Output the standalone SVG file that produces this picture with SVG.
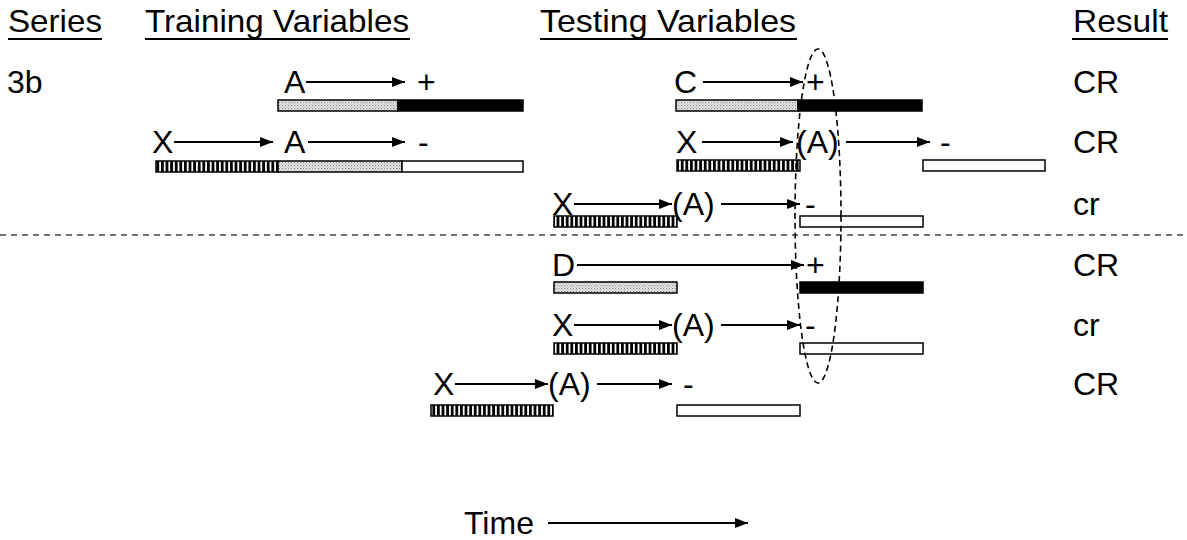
<svg xmlns="http://www.w3.org/2000/svg" width="1187" height="540" viewBox="0 0 1187 540">
<defs>
<style>
text{font-family:"Liberation Sans",Arial,sans-serif;fill:#000}
.h{font-size:32px}
.t{font-size:32px}
.ul{stroke:#000;stroke-width:2.2}
.ar{stroke:#000;stroke-width:2;fill:none;marker-end:url(#ah)}
.bar{stroke:#000;stroke-width:1.5}
.st{fill:url(#stip)}
.vs{fill:url(#vstr)}
.bk{fill:#000}
.wh{fill:#fff}
</style>
<marker id="ah" viewBox="0 0 13 10" refX="13" refY="5" markerWidth="13" markerHeight="10" markerUnits="userSpaceOnUse" orient="auto">
<path d="M0,0 L13,5 L0,10 Z" fill="#000"/>
</marker>
<pattern id="stip" width="3" height="3" patternUnits="userSpaceOnUse">
<rect width="3" height="3" fill="#ececec"/>
<rect x="0" y="0" width="1.2" height="1.2" fill="#888"/>
<rect x="1.5" y="1.5" width="1.2" height="1.2" fill="#aaa"/>
</pattern>
<pattern id="vstr" width="4.6" height="20" patternUnits="userSpaceOnUse">
<rect width="4.6" height="20" fill="#fff"/>
<rect width="2.8" height="20" fill="#000"/>
</pattern>
</defs>

<g id="headers">
<text class="h" x="8" y="32" textLength="94" lengthAdjust="spacingAndGlyphs">Series</text>
<line class="ul" x1="8" y1="39" x2="102" y2="39"/>
<text class="h" x="145" y="32" textLength="264" lengthAdjust="spacingAndGlyphs">Training Variables</text>
<line class="ul" x1="145" y1="39" x2="410" y2="39"/>
<text class="h" x="540" y="32" textLength="256" lengthAdjust="spacingAndGlyphs">Testing Variables</text>
<line class="ul" x1="540" y1="39" x2="797" y2="39"/>
<text class="h" x="1073" y="32" textLength="95" lengthAdjust="spacingAndGlyphs">Result</text>
<line class="ul" x1="1072" y1="39" x2="1168" y2="39"/>
</g>

<g id="row1">
<text class="t" x="7" y="93">3b</text>
<text class="t" x="284" y="93">A</text>
<text class="t" x="417" y="93">+</text>
<rect class="bar st" x="278" y="100" width="120" height="11"/>
<rect class="bar bk" x="398" y="100" width="125" height="11"/>
<text class="t" x="674" y="93">C</text>
<text class="t" x="806" y="93">+</text>
<rect class="bar st" x="676" y="100" width="122" height="11"/>
<rect class="bar bk" x="798" y="100" width="124" height="11"/>
<text class="t" x="1073" y="93">CR</text>
</g>

<g id="row2">
<text class="t" x="152" y="153">X</text>
<text class="t" x="284" y="153">A</text>
<text class="t" x="418" y="153">-</text>
<rect class="bar vs" x="156" y="161" width="122" height="11"/>
<rect class="bar st" x="278" y="161" width="124" height="11"/>
<rect class="bar wh" x="402" y="161" width="121" height="11"/>
<text class="t" x="676" y="153">X</text>
<text class="t" x="796" y="153">(A)</text>
<text class="t" x="940" y="153">-</text>
<rect class="bar vs" x="677" y="160" width="123" height="11"/>
<rect class="bar wh" x="923" y="160" width="122" height="11"/>
<text class="t" x="1073" y="153">CR</text>
</g>

<g id="row3">
<text class="t" x="552" y="215">X</text>
<text class="t" x="672" y="215">(A)</text>
<text class="t" x="805" y="215">-</text>
<rect class="bar vs" x="554" y="216" width="123" height="11"/>
<rect class="bar wh" x="800" y="216" width="123" height="11"/>
<text class="t" x="1073" y="215">cr</text>
</g>

<g id="divider">
<line x1="0" y1="235" x2="1187" y2="235" stroke="#444" stroke-width="1.5" stroke-dasharray="6,5"/>
</g>

<g id="row4">
<text class="t" x="552" y="276">D</text>
<text class="t" x="806" y="276">+</text>
<rect class="bar st" x="554" y="282" width="123" height="11"/>
<rect class="bar bk" x="800" y="282" width="123" height="11"/>
<text class="t" x="1073" y="276">CR</text>
</g>

<g id="row5">
<text class="t" x="552" y="336">X</text>
<text class="t" x="672" y="336">(A)</text>
<text class="t" x="805" y="336">-</text>
<rect class="bar vs" x="554" y="343" width="123" height="11"/>
<rect class="bar wh" x="800" y="343" width="123" height="11"/>
<text class="t" x="1073" y="336">cr</text>
</g>

<g id="row6">
<text class="t" x="433" y="395">X</text>
<text class="t" x="548" y="395">(A)</text>
<text class="t" x="683" y="395">-</text>
<rect class="bar vs" x="431" y="405" width="122" height="11"/>
<rect class="bar wh" x="677" y="405" width="123" height="11"/>
<text class="t" x="1073" y="395">CR</text>
</g>

<g id="highlight">
<ellipse cx="818" cy="216" rx="23" ry="167" fill="none" stroke="#000" stroke-width="1.6" stroke-dasharray="6,4"/>
</g>

<g id="time">
<text class="t" x="464" y="534">Time</text>
</g>

<g id="connectors">
<line class="ar" x1="306" y1="82" x2="405" y2="82"/>
<line class="ar" x1="703" y1="82" x2="803" y2="82"/>
<line class="ar" x1="174" y1="142" x2="273" y2="142"/>
<line class="ar" x1="308" y1="142" x2="405" y2="142"/>
<line class="ar" x1="702" y1="142" x2="793" y2="142"/>
<line class="ar" x1="846" y1="142" x2="930" y2="142"/>
<line class="ar" x1="574" y1="204" x2="672" y2="204"/>
<line class="ar" x1="721" y1="204" x2="800" y2="204"/>
<line class="ar" x1="577" y1="265" x2="804" y2="265"/>
<line class="ar" x1="574" y1="325" x2="672" y2="325"/>
<line class="ar" x1="721" y1="325" x2="800" y2="325"/>
<line class="ar" x1="455" y1="384" x2="548" y2="384"/>
<line class="ar" x1="597" y1="384" x2="672" y2="384"/>
<line class="ar" x1="548" y1="523" x2="748" y2="523"/>
</g>
</svg>
